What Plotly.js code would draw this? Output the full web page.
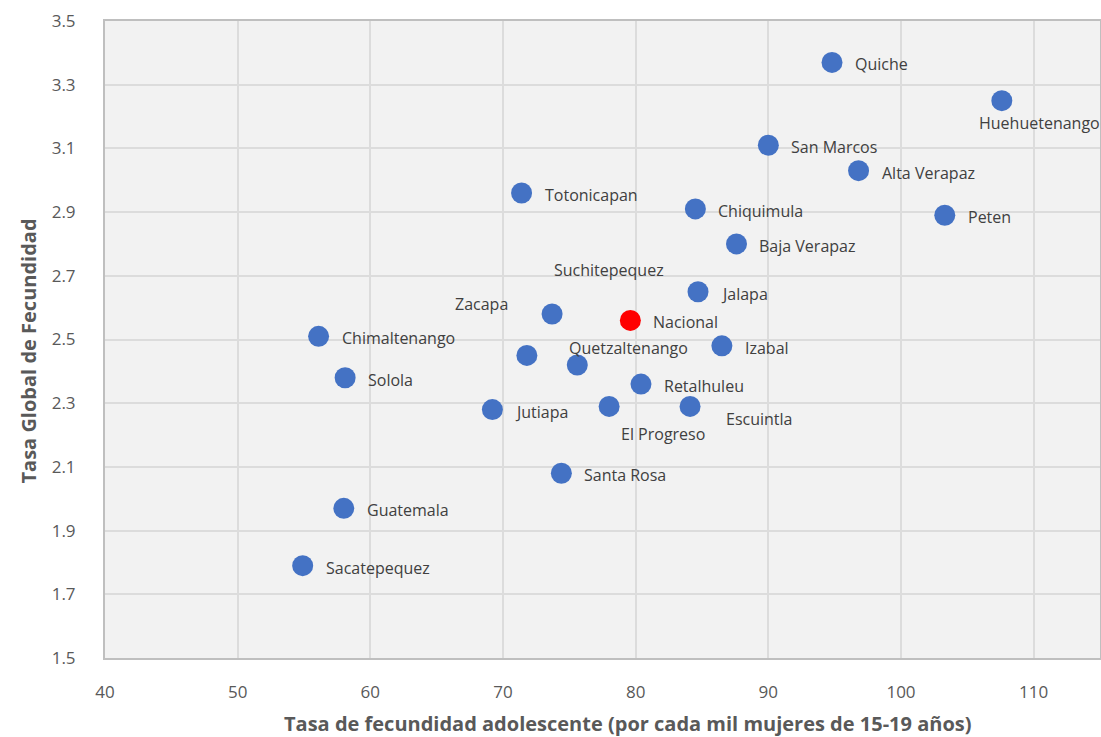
<!DOCTYPE html>
<html>
<head>
<meta charset="utf-8">
<script src="https://cdn.plot.ly/plotly-3.0.1.min.js"></script>
<style>html,body{margin:0;padding:0;background:#fff;}#chart{width:1101px;height:737px;}</style>
</head>
<body>
<div id="chart"></div>
<script>
// Departments (blue series)
const departments = ["Quiche","Huehuetenango","San Marcos","Alta Verapaz","Peten","Totonicapan","Chiquimula","Baja Verapaz","Jalapa","Zacapa","Chimaltenango","Izabal","Suchitepequez","Quetzaltenango","Solola","Retalhuleu","El Progreso","Escuintla","Jutiapa","Santa Rosa","Guatemala","Sacatepequez"];
const adolescentRate = [94.8,107.6,90.0,96.8,103.3,71.4,84.5,87.6,84.7,73.7,56.1,86.5,71.8,75.6,58.1,80.4,78.0,84.1,69.2,74.4,58.0,54.9];
const globalRate = [3.37,3.25,3.11,3.03,2.89,2.96,2.91,2.80,2.65,2.58,2.51,2.48,2.45,2.42,2.38,2.36,2.29,2.29,2.28,2.08,1.97,1.79];
// National point (red)
const nationalName = ["Nacional"];
const nationalX = [79.6];
const nationalY = [2.56];
// Axis ticks
const xTicks = [40,50,60,70,80,90,100,110];
const yTicks = [1.5,1.7,1.9,2.1,2.3,2.5,2.7,2.9,3.1,3.3,3.5];

// label placement (pixel offsets from the point, style only)
const labelOffset = {
  "Huehuetenango":[-25,-22,"left"],
  "Zacapa":[-42,10,"right"],
  "Suchitepequez":[25,85,"left"],
  "Quetzaltenango":[-10,17,"left"],
  "El Progreso":[10,-28,"left"],
  "Escuintla":[34,-13,"left"]
};
const defaultOffset = [21,-2,"left"];

const font = "'Open Sans', 'Noto Sans', sans-serif";
const annotations = [];
function addLabel(name, x, y){
  const o = labelOffset[name] || defaultOffset;
  annotations.push({x:x, y:y, xref:"x", yref:"y", text:name, showarrow:false,
    xanchor:o[2], yanchor:"middle", xshift:o[0], yshift:o[1],
    font:{family:font, size:16, color:"#404040"}});
}
departments.forEach((d,i)=>addLabel(d, adolescentRate[i], globalRate[i]));
nationalName.forEach((d,i)=>addLabel(d, nationalX[i], nationalY[i]));

annotations.push({xref:"paper", yref:"paper", x:0.5, y:0, xshift:25, yshift:-65, yanchor:"middle",
  text:"Tasa de fecundidad adolescente (por cada mil mujeres de 15-19 años)", showarrow:false,
  font:{family:font, size:20, color:"#595959", weight:"bold"}});
annotations.push({xref:"paper", yref:"paper", x:0, y:0.5, xshift:-77, yshift:-12, xanchor:"center", textangle:-90,
  text:"Tasa Global de Fecundidad", showarrow:false,
  font:{family:font, size:20, color:"#595959", weight:"bold"}});

const traces = [
  {type:"scatter", mode:"markers", x:adolescentRate, y:globalRate, text:departments,
   marker:{color:"#4472C4", size:21, line:{width:0}}, hoverinfo:"text+x+y"},
  {type:"scatter", mode:"markers", x:nationalX, y:nationalY, text:nationalName,
   marker:{color:"#FF0000", size:21, line:{width:0}}, hoverinfo:"text+x+y"}
];

const layout = {
  width:1101, height:737,
  margin:{l:105, r:1, t:21, b:79},
  paper_bgcolor:"#FFFFFF", plot_bgcolor:"#F2F2F2",
  showlegend:false,
  xaxis:{range:[40,115], tickvals:xTicks, ticktext:xTicks.map(String), showgrid:true, gridcolor:"#DCDCDC", gridwidth:2,
    zeroline:false, showline:true, linecolor:"#BFBFBF", linewidth:2, mirror:true, ticks:"",
    ticklabelstandoff:18, tickfont:{family:font, size:17, color:"#595959"}},
  yaxis:{range:[1.5,3.5], tickvals:yTicks, ticktext:yTicks.map(v=>v.toFixed(1)), showgrid:true, gridcolor:"#DCDCDC", gridwidth:2,
    zeroline:false, showline:true, linecolor:"#BFBFBF", linewidth:2, mirror:true, ticks:"",
    ticklabelstandoff:24, tickfont:{family:font, size:17, color:"#595959"}},
  annotations:annotations,
  font:{family:font}
};
Plotly.newPlot("chart", traces, layout, {displayModeBar:false, staticPlot:true});
</script>
</body>
</html>
